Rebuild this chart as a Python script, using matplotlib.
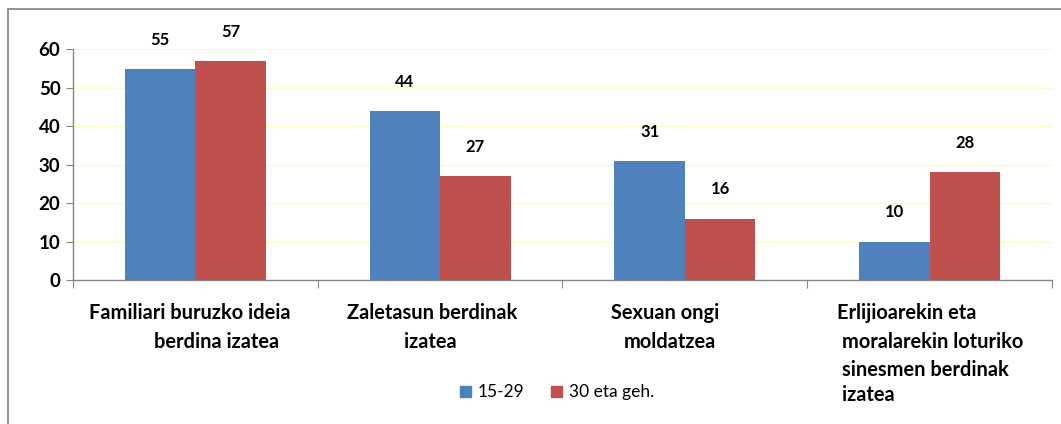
import numpy as np
import matplotlib.pyplot as plt
from matplotlib.lines import Line2D
from matplotlib.patches import Patch

plt.rcParams['font.family'] = ['Lato', 'DejaVu Sans']

# categories, one list of lines per group label
labels = [
    ['Familiari buruzko ideia', 'berdina izatea'],
    ['Zaletasun berdinak', 'izatea'],
    ['Sexuan ongi', 'moldatzea'],
    ['Erlijioarekin eta', 'moralarekin loturiko', 'sinesmen berdinak', 'izatea'],
]
series_names = ['15-29', '30 eta geh.']
young = [55, 44, 31, 10]
older = [57, 27, 16, 28]

blue = '#4F81BD'
red = '#C0504D'
axis_grey = '#868686'

fig = plt.figure(figsize=(10.61, 4.24), dpi=100)
ax = fig.add_axes([0.0688, 0.3396, 0.9227, 0.5437])

x = np.arange(len(labels))
w = 0.288
b1 = ax.bar(x - w / 2, young, w, color=blue, zorder=3)
b2 = ax.bar(x + w / 2, older, w, color=red, zorder=3)

for bars, vals in [(b1, young), (b2, older)]:
    for rect, v in zip(bars, vals):
        ax.annotate(str(v), (rect.get_x() + rect.get_width() / 2, v),
                    xytext=(0, 21), textcoords='offset points',
                    ha='center', va='center', fontsize=12, fontweight='bold')

ax.set_xlim(-0.5, 3.5)
ax.set_ylim(0, 60)
ax.set_yticks(range(0, 61, 10))
ax.yaxis.grid(True, color='#fbfbc4', lw=1, zorder=0)
ax.tick_params(axis='y', length=5, color=axis_grey, labelsize=13.5, pad=4)
for t in ax.get_yticklabels():
    t.set_fontweight('bold')

# tick marks sit between the groups
ax.set_xticks(np.arange(-0.5, 4, 1))
ax.set_xticklabels([])
ax.tick_params(axis='x', length=6, color=axis_grey)

for s in ['top', 'right']:
    ax.spines[s].set_visible(False)
for s in ['left', 'bottom']:
    ax.spines[s].set_color(axis_grey)
    ax.spines[s].set_linewidth(1)

# category labels, line by line
line_y = [-8.6, -16.1, -23.4, -29.9]
centre_dx = [[-0.022, 0.088], [-0.033, -0.041], [-0.081, -0.061]]
for i in range(3):
    for j, txt in enumerate(labels[i]):
        ax.text(i + centre_dx[i][j], line_y[j], txt, ha='center', va='center',
                fontsize=14.4, fontweight='bold', clip_on=False)
left_dx = [-0.378, -0.358, -0.358, -0.358]
for j, txt in enumerate(labels[3]):
    ax.text(3 + left_dx[j], line_y[j], txt, ha='left', va='center',
            fontsize=14.4, fontweight='bold', clip_on=False)

handles = [Patch(color=blue), Patch(color=red)]
fig.legend(handles, series_names, loc='center', bbox_to_anchor=(0.525, 0.075),
           ncol=2, frameon=False, fontsize=12.5, handlelength=0.6,
           handleheight=0.6, handletextpad=0.4, columnspacing=1.55)

# outer chart frame (only top and left edges show)
fig.add_artist(Line2D([8 / 1061, 1], [1 - 8.5 / 424, 1 - 8.5 / 424],
                      color='#8c8c8c', lw=1.3, transform=fig.transFigure))
fig.add_artist(Line2D([8 / 1061, 8 / 1061], [0, 1 - 8.5 / 424],
                      color='#8c8c8c', lw=1.3, transform=fig.transFigure))

fig.savefig('out.png', dpi=100)
